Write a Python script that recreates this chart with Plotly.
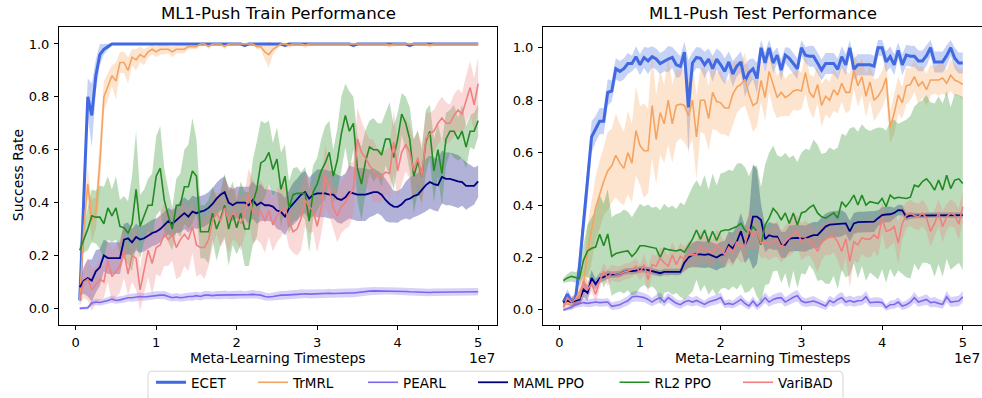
import numpy as np
import plotly.graph_objects as go

# evaluation points: every 0.5M meta-learning timesteps, up to 50M
timesteps = np.arange(1, 101) * 5e5

methods = ["ECET", "TrMRL", "PEARL", "MAML PPO", "RL2 PPO", "VariBAD"]
colors = ["#4169E1", "#F4A460", "#7B68EE", "#000080", "#228B22", "#F08080"]
line_widths = [3.0, 1.6, 1.6, 1.8, 1.6, 1.6]

x_tick_vals = [0, 1e7, 2e7, 3e7, 4e7, 5e7]
x_tick_text = ["0", "1", "2", "3", "4", "5"]
y_tick_vals = [0.0, 0.2, 0.4, 0.6, 0.8, 1.0]
y_tick_text = ["0.0", "0.2", "0.4", "0.6", "0.8", "1.0"]

# ---------------- train success rate (mean, std) ----------------
train_ecet = [
    0.03, 0.42, 0.80, 0.73, 0.88, 0.96, 0.98, 0.99, 1.00, 1.00,
    1.00, 1.00, 1.00, 1.00, 1.00, 1.00, 1.00, 1.00, 1.00, 1.00,
    1.00, 1.00, 1.00, 1.00, 1.00, 1.00, 1.00, 1.00, 1.00, 1.00,
    1.00, 1.00, 1.00, 1.00, 1.00, 1.00, 1.00, 1.00, 1.00, 1.00,
    1.00, 0.995, 1.00, 1.00, 1.00, 1.00, 1.00, 1.00, 1.00, 1.00,
    1.00, 0.995, 1.00, 1.00, 1.00, 1.00, 1.00, 1.00, 1.00, 1.00,
    1.00, 1.00, 1.00, 1.00, 1.00, 1.00, 1.00, 1.00, 0.995, 1.00,
    1.00, 1.00, 1.00, 1.00, 1.00, 1.00, 1.00, 1.00, 1.00, 1.00,
    1.00, 1.00, 0.995, 1.00, 1.00, 1.00, 1.00, 1.00, 1.00, 1.00,
    1.00, 1.00, 1.00, 1.00, 1.00, 1.00, 1.00, 1.00, 1.00, 1.00,
]
train_ecet_sd = [
    0.02, 0.10, 0.07, 0.12, 0.06, 0.04, 0.02, 0.01, 0.004, 0.003,
    0.003, 0.003, 0.003, 0.003, 0.003, 0.003, 0.003, 0.003, 0.003, 0.003,
    0.003, 0.003, 0.003, 0.003, 0.003, 0.003, 0.003, 0.003, 0.003, 0.003,
    0.003, 0.003, 0.003, 0.003, 0.003, 0.003, 0.003, 0.003, 0.003, 0.003,
    0.003, 0.008, 0.003, 0.003, 0.003, 0.003, 0.003, 0.003, 0.003, 0.003,
    0.003, 0.008, 0.003, 0.003, 0.003, 0.003, 0.003, 0.003, 0.003, 0.003,
    0.003, 0.003, 0.003, 0.003, 0.003, 0.003, 0.003, 0.003, 0.008, 0.003,
    0.003, 0.003, 0.003, 0.003, 0.003, 0.003, 0.003, 0.003, 0.003, 0.003,
    0.003, 0.003, 0.008, 0.003, 0.003, 0.003, 0.003, 0.003, 0.003, 0.003,
    0.003, 0.003, 0.003, 0.003, 0.003, 0.003, 0.003, 0.003, 0.003, 0.003,
]
train_trmrl = [
    0.03, 0.30, 0.47, 0.33, 0.36, 0.55, 0.80, 0.84, 0.88, 0.86,
    0.93, 0.93, 0.90, 0.95, 0.94, 0.96, 0.95, 0.97, 0.98, 0.97,
    0.98, 0.98, 0.98, 0.97, 0.98, 0.98, 0.98, 0.99, 0.99, 0.99,
    1.00, 1.00, 0.99, 1.00, 1.00, 1.00, 0.99, 1.00, 1.00, 1.00,
    1.00, 1.00, 1.00, 1.00, 0.99, 0.99, 0.97, 0.96, 0.98, 0.99,
    1.00, 1.00, 0.995, 1.00, 1.00, 1.00, 0.995, 1.00, 1.00, 1.00,
    1.00, 1.00, 1.00, 1.00, 1.00, 1.00, 1.00, 1.00, 1.00, 1.00,
    1.00, 1.00, 1.00, 1.00, 1.00, 1.00, 1.00, 0.995, 1.00, 1.00,
    1.00, 1.00, 1.00, 1.00, 1.00, 1.00, 1.00, 0.995, 1.00, 1.00,
    1.00, 1.00, 1.00, 1.00, 1.00, 1.00, 1.00, 1.00, 1.00, 1.00,
]
train_trmrl_sd = [
    0.02, 0.10, 0.06, 0.08, 0.06, 0.10, 0.06, 0.05, 0.04, 0.07,
    0.04, 0.04, 0.05, 0.03, 0.04, 0.03, 0.03, 0.02, 0.02, 0.02,
    0.02, 0.02, 0.015, 0.02, 0.015, 0.015, 0.015, 0.01, 0.01, 0.01,
    0.005, 0.005, 0.01, 0.005, 0.005, 0.005, 0.01, 0.005, 0.005, 0.005,
    0.005, 0.005, 0.005, 0.005, 0.01, 0.01, 0.03, 0.05, 0.02, 0.01,
    0.005, 0.005, 0.01, 0.005, 0.005, 0.005, 0.01, 0.005, 0.005, 0.005,
    0.005, 0.005, 0.005, 0.005, 0.005, 0.005, 0.005, 0.005, 0.005, 0.005,
    0.005, 0.005, 0.005, 0.005, 0.005, 0.005, 0.005, 0.01, 0.005, 0.005,
    0.005, 0.005, 0.005, 0.005, 0.005, 0.005, 0.005, 0.01, 0.005, 0.005,
    0.005, 0.005, 0.005, 0.005, 0.005, 0.005, 0.005, 0.005, 0.005, 0.005,
]
train_pearl = [
    0.000, 0.000, 0.002, 0.020, 0.024, 0.022, 0.025, 0.030, 0.035, 0.030,
    0.032, 0.035, 0.040, 0.040, 0.042, 0.045, 0.043, 0.045, 0.048, 0.050,
    0.050, 0.050, 0.045, 0.040, 0.043, 0.040, 0.042, 0.045, 0.045, 0.048,
    0.045, 0.050, 0.050, 0.048, 0.050, 0.050, 0.052, 0.050, 0.050, 0.052,
    0.052, 0.050, 0.052, 0.053, 0.052, 0.050, 0.045, 0.043, 0.045, 0.048,
    0.050, 0.050, 0.052, 0.052, 0.053, 0.055, 0.055, 0.054, 0.055, 0.055,
    0.056, 0.056, 0.057, 0.056, 0.057, 0.057, 0.058, 0.058, 0.058, 0.060,
    0.062, 0.065, 0.065, 0.066, 0.066, 0.066, 0.066, 0.066, 0.066, 0.066,
    0.065, 0.064, 0.063, 0.062, 0.061, 0.060, 0.060, 0.060, 0.061, 0.061,
    0.062, 0.062, 0.062, 0.062, 0.063, 0.063, 0.063, 0.063, 0.063, 0.063,
]
train_pearl_sd = [
    0.004, 0.005, 0.006, 0.010, 0.012, 0.012, 0.012, 0.013, 0.014, 0.013,
    0.013, 0.014, 0.014, 0.015, 0.015, 0.015, 0.014, 0.015, 0.015, 0.015,
    0.015, 0.016, 0.015, 0.014, 0.015, 0.014, 0.015, 0.015, 0.016, 0.015,
    0.015, 0.016, 0.016, 0.015, 0.016, 0.016, 0.016, 0.015, 0.016, 0.016,
    0.016, 0.015, 0.016, 0.016, 0.015, 0.016, 0.015, 0.014, 0.015, 0.016,
    0.016, 0.016, 0.016, 0.017, 0.016, 0.017, 0.016, 0.017, 0.017, 0.016,
    0.017, 0.016, 0.017, 0.016, 0.017, 0.017, 0.016, 0.017, 0.016, 0.016,
    0.016, 0.015, 0.015, 0.015, 0.014, 0.014, 0.014, 0.014, 0.014, 0.014,
    0.014, 0.014, 0.014, 0.014, 0.014, 0.014, 0.014, 0.014, 0.014, 0.014,
    0.014, 0.014, 0.014, 0.014, 0.014, 0.014, 0.014, 0.014, 0.014, 0.014,
]
train_maml = [
    0.08, 0.105, 0.115, 0.105, 0.14, 0.155, 0.20, 0.19, 0.19, 0.19,
    0.19, 0.26, 0.265, 0.25, 0.27, 0.26, 0.265, 0.275, 0.285, 0.29,
    0.30, 0.315, 0.33, 0.32, 0.335, 0.347, 0.36, 0.347, 0.366, 0.36,
    0.366, 0.37, 0.38, 0.395, 0.415, 0.43, 0.44, 0.40, 0.39, 0.40,
    0.40, 0.40, 0.39, 0.41, 0.39, 0.40, 0.39, 0.39, 0.385, 0.37,
    0.365, 0.347, 0.378, 0.394, 0.41, 0.43, 0.44, 0.415, 0.43, 0.435,
    0.435, 0.435, 0.43, 0.43, 0.415, 0.41, 0.42, 0.44, 0.435, 0.43,
    0.43, 0.43, 0.435, 0.44, 0.44, 0.43, 0.41, 0.395, 0.385, 0.384,
    0.394, 0.41, 0.415, 0.425, 0.43, 0.447, 0.466, 0.478, 0.47, 0.466,
    0.497, 0.49, 0.49, 0.485, 0.48, 0.478, 0.463, 0.463, 0.463, 0.48,
]
train_maml_sd = [
    0.03, 0.05, 0.07, 0.08, 0.08, 0.07, 0.06, 0.06, 0.06, 0.06,
    0.06, 0.06, 0.06, 0.05, 0.05, 0.05, 0.05, 0.05, 0.05, 0.05,
    0.05, 0.05, 0.05, 0.05, 0.05, 0.06, 0.06, 0.06, 0.06, 0.06,
    0.06, 0.06, 0.06, 0.06, 0.06, 0.06, 0.06, 0.06, 0.06, 0.06,
    0.06, 0.06, 0.07, 0.07, 0.07, 0.07, 0.06, 0.06, 0.06, 0.07,
    0.07, 0.07, 0.07, 0.08, 0.08, 0.08, 0.08, 0.08, 0.08, 0.09,
    0.09, 0.09, 0.09, 0.09, 0.09, 0.09, 0.09, 0.10, 0.10, 0.10,
    0.10, 0.10, 0.09, 0.09, 0.08, 0.08, 0.08, 0.07, 0.06, 0.06,
    0.06, 0.07, 0.08, 0.08, 0.08, 0.09, 0.10, 0.10, 0.10, 0.10,
    0.10, 0.10, 0.10, 0.10, 0.10, 0.09, 0.09, 0.08, 0.07, 0.06,
]
train_rl2 = [
    0.22, 0.26, 0.30, 0.35, 0.345, 0.345, 0.32, 0.38, 0.35, 0.38,
    0.31, 0.305, 0.285, 0.32, 0.45, 0.31, 0.35, 0.39, 0.39, 0.50,
    0.53, 0.41, 0.35, 0.30, 0.39, 0.39, 0.46, 0.46, 0.52, 0.50,
    0.29, 0.29, 0.29, 0.36, 0.30, 0.34, 0.39, 0.30, 0.36, 0.305,
    0.36, 0.30, 0.30, 0.40, 0.45, 0.55, 0.56, 0.59, 0.525, 0.565,
    0.45, 0.50, 0.38, 0.43, 0.435, 0.435, 0.435, 0.33, 0.44, 0.47,
    0.52, 0.55, 0.59, 0.50, 0.56, 0.66, 0.73, 0.67, 0.70, 0.53,
    0.47, 0.555, 0.61, 0.60, 0.60, 0.58, 0.64, 0.64, 0.57, 0.64,
    0.735, 0.70, 0.64, 0.50, 0.555, 0.50, 0.63, 0.67, 0.52, 0.60,
    0.51, 0.64, 0.67, 0.67, 0.64, 0.67, 0.61, 0.67, 0.67, 0.71,
]
train_rl2_sd = [
    0.02, 0.05, 0.08, 0.10, 0.10, 0.12, 0.14, 0.12, 0.10, 0.12,
    0.10, 0.12, 0.12, 0.18, 0.22, 0.12, 0.10, 0.10, 0.12, 0.15,
    0.16, 0.12, 0.10, 0.08, 0.10, 0.12, 0.14, 0.16, 0.20, 0.14,
    0.10, 0.10, 0.12, 0.10, 0.12, 0.10, 0.12, 0.14, 0.12, 0.10,
    0.12, 0.14, 0.14, 0.16, 0.18, 0.16, 0.14, 0.12, 0.10, 0.12,
    0.14, 0.12, 0.10, 0.10, 0.10, 0.08, 0.10, 0.12, 0.10, 0.10,
    0.12, 0.14, 0.12, 0.10, 0.12, 0.14, 0.12, 0.15, 0.10, 0.12,
    0.14, 0.12, 0.10, 0.12, 0.10, 0.12, 0.10, 0.14, 0.12, 0.10,
    0.08, 0.10, 0.12, 0.14, 0.12, 0.10, 0.12, 0.10, 0.12, 0.10,
    0.12, 0.10, 0.08, 0.10, 0.08, 0.10, 0.08, 0.06, 0.07, 0.06,
]
train_varibad = [
    0.04, 0.10, 0.11, 0.07, 0.09, 0.11, 0.10, 0.18, 0.12, 0.14,
    0.16, 0.215, 0.13, 0.20, 0.19, 0.07, 0.15, 0.22, 0.17, 0.23,
    0.24, 0.28, 0.26, 0.28, 0.23, 0.26, 0.28, 0.26, 0.31, 0.24,
    0.23, 0.23, 0.26, 0.33, 0.36, 0.33, 0.38, 0.33, 0.36, 0.35,
    0.32, 0.36, 0.43, 0.365, 0.36, 0.365, 0.33, 0.37, 0.315, 0.35,
    0.37, 0.38, 0.33, 0.29, 0.30, 0.34, 0.41, 0.385, 0.37, 0.31,
    0.38, 0.50, 0.45, 0.38, 0.35, 0.385, 0.40, 0.43, 0.455, 0.64,
    0.59, 0.57, 0.54, 0.52, 0.50, 0.50, 0.515, 0.51, 0.63, 0.52,
    0.59, 0.62, 0.59, 0.52, 0.57, 0.50, 0.64, 0.66, 0.67, 0.70,
    0.72, 0.70, 0.70, 0.73, 0.75, 0.735, 0.79, 0.835, 0.77, 0.85,
]
train_varibad_sd = [
    0.03, 0.06, 0.08, 0.08, 0.07, 0.08, 0.06, 0.08, 0.10, 0.10,
    0.10, 0.10, 0.08, 0.10, 0.12, 0.08, 0.10, 0.10, 0.12, 0.10,
    0.12, 0.12, 0.10, 0.10, 0.12, 0.14, 0.12, 0.12, 0.10, 0.12,
    0.10, 0.12, 0.10, 0.10, 0.08, 0.10, 0.12, 0.12, 0.10, 0.10,
    0.10, 0.08, 0.10, 0.12, 0.10, 0.12, 0.12, 0.10, 0.10, 0.10,
    0.10, 0.08, 0.10, 0.08, 0.10, 0.12, 0.10, 0.10, 0.08, 0.10,
    0.10, 0.12, 0.10, 0.08, 0.10, 0.10, 0.10, 0.12, 0.10, 0.12,
    0.12, 0.10, 0.10, 0.12, 0.10, 0.10, 0.08, 0.10, 0.12, 0.10,
    0.12, 0.10, 0.10, 0.12, 0.10, 0.12, 0.10, 0.08, 0.08, 0.08,
    0.08, 0.08, 0.07, 0.08, 0.08, 0.08, 0.09, 0.10, 0.10, 0.10,
]

# ---------------- test success rate (mean, std) ----------------
test_ecet = [
    0.03, 0.06, 0.03, 0.04, 0.17, 0.33, 0.49, 0.66, 0.69, 0.72,
    0.72, 0.83, 0.835, 0.92, 0.91, 0.92, 0.94, 0.94, 0.966, 0.935,
    0.963, 0.95, 0.966, 0.957, 0.94, 0.95, 0.957, 0.963, 0.935, 0.929,
    0.983, 0.773, 0.942, 0.963, 0.96, 0.935, 0.957, 0.92, 0.957, 0.935,
    0.91, 0.946, 0.90, 0.93, 0.946, 0.873, 0.905, 0.92, 0.883, 1.0,
    0.942, 1.0, 0.942, 0.972, 0.915, 0.972, 0.96, 0.94, 0.92, 1.0,
    0.972, 0.968, 0.968, 0.942, 0.915, 0.94, 0.94, 0.94, 0.918, 0.966,
    0.935, 1.0, 0.918, 0.935, 0.935, 0.935, 0.935, 0.93, 1.0, 1.0,
    0.946, 0.966, 0.935, 0.99, 0.935, 0.972, 0.968, 0.968, 0.95, 0.95,
    0.97, 1.0, 0.946, 0.946, 0.946, 0.97, 1.0, 0.96, 0.942, 0.942,
]
test_ecet_sd = [
    0.01, 0.02, 0.02, 0.02, 0.05, 0.06, 0.07, 0.06, 0.05, 0.05,
    0.05, 0.05, 0.04, 0.04, 0.04, 0.04, 0.04, 0.03, 0.04, 0.04,
    0.04, 0.05, 0.04, 0.04, 0.04, 0.04, 0.05, 0.04, 0.05, 0.04,
    0.04, 0.18, 0.04, 0.04, 0.04, 0.05, 0.04, 0.05, 0.04, 0.05,
    0.05, 0.04, 0.05, 0.04, 0.04, 0.06, 0.05, 0.04, 0.06, 0.03,
    0.04, 0.03, 0.04, 0.03, 0.04, 0.03, 0.04, 0.04, 0.04, 0.03,
    0.03, 0.04, 0.04, 0.04, 0.04, 0.04, 0.04, 0.04, 0.04, 0.04,
    0.04, 0.03, 0.04, 0.04, 0.04, 0.04, 0.04, 0.04, 0.03, 0.03,
    0.04, 0.04, 0.04, 0.03, 0.04, 0.04, 0.04, 0.04, 0.04, 0.04,
    0.04, 0.03, 0.04, 0.04, 0.04, 0.04, 0.03, 0.04, 0.04, 0.04,
]
test_trmrl = [
    0.01, 0.03, 0.02, 0.04, 0.07, 0.10, 0.22, 0.30, 0.39, 0.44,
    0.49, 0.53, 0.55, 0.59, 0.56, 0.54, 0.60, 0.56, 0.684, 0.627,
    0.607, 0.607, 0.78, 0.65, 0.753, 0.71, 0.80, 0.71, 0.78, 0.785,
    0.78, 0.74, 0.80, 0.66, 0.80, 0.80, 0.73, 0.83, 0.795, 0.79,
    0.77, 0.77, 0.823, 0.85, 0.86, 0.88, 0.823, 0.78, 0.79, 0.875,
    0.81, 0.91, 0.855, 0.81, 0.83, 0.81, 0.82, 0.835, 0.84, 0.835,
    0.905, 0.83, 0.81, 0.86, 0.78, 0.815, 0.80, 0.84, 0.82, 0.865,
    0.83, 0.83, 0.915, 0.855, 0.89, 0.815, 0.87, 0.80, 0.815, 0.84,
    0.885, 0.697, 0.75, 0.82, 0.79, 0.855, 0.86, 0.89, 0.855, 0.87,
    0.84, 0.877, 0.877, 0.877, 0.885, 0.865, 0.895, 0.877, 0.87, 0.86,
]
test_trmrl_sd = [
    0.01, 0.02, 0.02, 0.03, 0.05, 0.06, 0.10, 0.12, 0.12, 0.13,
    0.13, 0.15, 0.14, 0.16, 0.15, 0.14, 0.16, 0.15, 0.17, 0.15,
    0.18, 0.16, 0.20, 0.17, 0.16, 0.15, 0.17, 0.15, 0.14, 0.13,
    0.14, 0.13, 0.15, 0.16, 0.12, 0.13, 0.12, 0.14, 0.11, 0.12,
    0.10, 0.11, 0.12, 0.10, 0.09, 0.10, 0.09, 0.10, 0.09, 0.08,
    0.09, 0.08, 0.09, 0.08, 0.09, 0.07, 0.08, 0.07, 0.08, 0.07,
    0.08, 0.07, 0.08, 0.07, 0.08, 0.07, 0.07, 0.08, 0.07, 0.07,
    0.08, 0.07, 0.07, 0.08, 0.07, 0.08, 0.07, 0.08, 0.07, 0.07,
    0.07, 0.06, 0.08, 0.07, 0.06, 0.07, 0.06, 0.06, 0.07, 0.06,
    0.06, 0.06, 0.05, 0.06, 0.06, 0.05, 0.06, 0.06, 0.05, 0.06,
]
test_pearl = [
    0.000, 0.005, 0.010, 0.020, 0.025, 0.028, 0.025, 0.027, 0.030, 0.028,
    0.028, 0.030, 0.014, 0.018, 0.020, 0.028, 0.035, 0.049, 0.052, 0.050,
    0.047, 0.040, 0.030, 0.040, 0.047, 0.030, 0.047, 0.036, 0.025, 0.020,
    0.030, 0.036, 0.030, 0.036, 0.028, 0.021, 0.030, 0.034, 0.040, 0.047,
    0.021, 0.025, 0.021, 0.030, 0.040, 0.025, 0.015, 0.034, 0.015, 0.028,
    0.047, 0.030, 0.040, 0.045, 0.047, 0.030, 0.040, 0.048, 0.054, 0.034,
    0.028, 0.030, 0.034, 0.028, 0.020, 0.015, 0.036, 0.028, 0.040, 0.047,
    0.030, 0.036, 0.030, 0.035, 0.036, 0.050, 0.028, 0.030, 0.030, 0.028,
    0.009, 0.020, 0.021, 0.030, 0.015, 0.020, 0.030, 0.047, 0.030, 0.035,
    0.040, 0.028, 0.030, 0.025, 0.021, 0.050, 0.030, 0.032, 0.034, 0.050,
]
test_pearl_sd = [
    0.005, 0.008, 0.010, 0.012, 0.015, 0.015, 0.015, 0.016, 0.015, 0.016,
    0.015, 0.016, 0.014, 0.015, 0.016, 0.017, 0.018, 0.020, 0.020, 0.019,
    0.018, 0.018, 0.016, 0.018, 0.020, 0.017, 0.019, 0.018, 0.016, 0.015,
    0.016, 0.018, 0.017, 0.018, 0.016, 0.015, 0.017, 0.018, 0.019, 0.020,
    0.015, 0.016, 0.015, 0.017, 0.019, 0.016, 0.014, 0.018, 0.015, 0.017,
    0.020, 0.018, 0.019, 0.020, 0.021, 0.018, 0.019, 0.021, 0.022, 0.018,
    0.017, 0.018, 0.019, 0.017, 0.016, 0.015, 0.019, 0.017, 0.020, 0.021,
    0.018, 0.019, 0.018, 0.019, 0.019, 0.022, 0.017, 0.018, 0.018, 0.017,
    0.012, 0.016, 0.016, 0.018, 0.015, 0.016, 0.018, 0.021, 0.018, 0.019,
    0.020, 0.018, 0.019, 0.017, 0.016, 0.022, 0.019, 0.019, 0.020, 0.022,
]
test_maml = [
    0.028, 0.035, 0.03, 0.035, 0.04, 0.078, 0.065, 0.122, 0.098, 0.122,
    0.125, 0.135, 0.135, 0.135, 0.137, 0.145, 0.148, 0.148, 0.15, 0.155,
    0.155, 0.152, 0.148, 0.142, 0.14, 0.145, 0.145, 0.145, 0.145, 0.145,
    0.18, 0.20, 0.21, 0.213, 0.212, 0.21, 0.213, 0.205, 0.20, 0.21,
    0.213, 0.248, 0.235, 0.26, 0.30, 0.248, 0.28, 0.356, 0.356, 0.343,
    0.27, 0.285, 0.28, 0.28, 0.248, 0.248, 0.272, 0.274, 0.275, 0.273,
    0.272, 0.28, 0.285, 0.285, 0.30, 0.318, 0.325, 0.326, 0.327, 0.33,
    0.33, 0.30, 0.33, 0.335, 0.335, 0.335, 0.336, 0.337, 0.35, 0.362,
    0.364, 0.365, 0.37, 0.381, 0.38, 0.355, 0.36, 0.36, 0.36, 0.36,
    0.362, 0.362, 0.362, 0.362, 0.362, 0.362, 0.362, 0.362, 0.362, 0.362,
]
test_maml_sd = [
    0.01, 0.015, 0.015, 0.02, 0.02, 0.03, 0.03, 0.03, 0.02, 0.02,
    0.015, 0.015, 0.012, 0.012, 0.012, 0.012, 0.012, 0.012, 0.012, 0.012,
    0.012, 0.012, 0.012, 0.012, 0.012, 0.012, 0.012, 0.012, 0.012, 0.012,
    0.03, 0.04, 0.045, 0.05, 0.05, 0.05, 0.05, 0.05, 0.05, 0.05,
    0.05, 0.05, 0.06, 0.06, 0.07, 0.07, 0.08, 0.20, 0.18, 0.06,
    0.05, 0.05, 0.05, 0.05, 0.05, 0.05, 0.05, 0.05, 0.05, 0.05,
    0.05, 0.05, 0.05, 0.05, 0.05, 0.05, 0.05, 0.05, 0.05, 0.05,
    0.04, 0.04, 0.04, 0.04, 0.04, 0.04, 0.04, 0.04, 0.03, 0.03,
    0.03, 0.03, 0.02, 0.02, 0.02, 0.015, 0.012, 0.01, 0.01, 0.01,
    0.01, 0.01, 0.01, 0.01, 0.01, 0.01, 0.01, 0.01, 0.01, 0.01,
]
test_rl2 = [
    0.112, 0.122, 0.128, 0.125, 0.12, 0.19, 0.225, 0.235, 0.24, 0.289,
    0.245, 0.29, 0.204, 0.215, 0.22, 0.223, 0.225, 0.204, 0.22, 0.245,
    0.245, 0.242, 0.24, 0.235, 0.20, 0.235, 0.23, 0.228, 0.225, 0.23,
    0.22, 0.245, 0.27, 0.305, 0.27, 0.305, 0.258, 0.30, 0.265, 0.30,
    0.305, 0.305, 0.31, 0.318, 0.33, 0.305, 0.29, 0.318, 0.30, 0.249,
    0.324, 0.35, 0.387, 0.37, 0.343, 0.37, 0.33, 0.37, 0.324, 0.37,
    0.375, 0.39, 0.40, 0.37, 0.355, 0.35, 0.36, 0.37, 0.35, 0.413,
    0.394, 0.413, 0.438, 0.40, 0.438, 0.40, 0.413, 0.41, 0.406, 0.425,
    0.394, 0.438, 0.425, 0.43, 0.428, 0.425, 0.43, 0.476, 0.47, 0.49,
    0.50, 0.482, 0.457, 0.495, 0.457, 0.514, 0.463, 0.495, 0.50, 0.482,
]
test_rl2_sd = [
    0.01, 0.015, 0.02, 0.02, 0.03, 0.06, 0.10, 0.12, 0.14, 0.15,
    0.16, 0.17, 0.15, 0.15, 0.15, 0.16, 0.15, 0.15, 0.16, 0.16,
    0.15, 0.16, 0.15, 0.16, 0.18, 0.17, 0.16, 0.17, 0.16, 0.18,
    0.18, 0.19, 0.20, 0.19, 0.20, 0.21, 0.20, 0.22, 0.21, 0.22,
    0.22, 0.23, 0.22, 0.24, 0.23, 0.24, 0.22, 0.23, 0.25, 0.22,
    0.23, 0.25, 0.24, 0.22, 0.24, 0.23, 0.25, 0.22, 0.24, 0.23,
    0.24, 0.22, 0.25, 0.26, 0.24, 0.25, 0.26, 0.24, 0.27, 0.26,
    0.27, 0.28, 0.26, 0.28, 0.27, 0.29, 0.27, 0.28, 0.29, 0.27,
    0.29, 0.28, 0.30, 0.28, 0.29, 0.30, 0.31, 0.30, 0.32, 0.31,
    0.32, 0.31, 0.33, 0.32, 0.33, 0.32, 0.31, 0.33, 0.32, 0.33,
]
test_varibad = [
    0.01, 0.047, 0.03, 0.04, 0.045, 0.11, 0.078, 0.10, 0.06, 0.11,
    0.148, 0.122, 0.142, 0.137, 0.137, 0.145, 0.148, 0.155, 0.167, 0.142,
    0.173, 0.116, 0.173, 0.167, 0.198, 0.18, 0.167, 0.21, 0.173, 0.205,
    0.192, 0.21, 0.21, 0.21, 0.24, 0.23, 0.223, 0.217, 0.248, 0.235,
    0.21, 0.24, 0.217, 0.26, 0.24, 0.248, 0.31, 0.286, 0.30, 0.255,
    0.26, 0.25, 0.26, 0.272, 0.24, 0.26, 0.275, 0.29, 0.30, 0.26,
    0.272, 0.267, 0.25, 0.223, 0.26, 0.27, 0.28, 0.28, 0.26, 0.223,
    0.272, 0.186, 0.26, 0.248, 0.275, 0.27, 0.27, 0.286, 0.272, 0.35,
    0.30, 0.305, 0.318, 0.255, 0.33, 0.362, 0.37, 0.36, 0.355, 0.37,
    0.35, 0.30, 0.33, 0.37, 0.318, 0.355, 0.37, 0.362, 0.327, 0.394,
]
test_varibad_sd = [
    0.01, 0.02, 0.02, 0.02, 0.02, 0.03, 0.03, 0.03, 0.03, 0.03,
    0.03, 0.03, 0.03, 0.03, 0.03, 0.03, 0.03, 0.03, 0.03, 0.03,
    0.04, 0.05, 0.04, 0.04, 0.04, 0.05, 0.04, 0.05, 0.05, 0.05,
    0.05, 0.05, 0.05, 0.05, 0.06, 0.05, 0.06, 0.05, 0.06, 0.05,
    0.05, 0.06, 0.05, 0.06, 0.06, 0.06, 0.07, 0.06, 0.06, 0.06,
    0.06, 0.06, 0.06, 0.07, 0.06, 0.06, 0.07, 0.07, 0.06, 0.07,
    0.07, 0.06, 0.07, 0.08, 0.07, 0.06, 0.07, 0.06, 0.07, 0.08,
    0.07, 0.10, 0.07, 0.07, 0.06, 0.07, 0.07, 0.06, 0.07, 0.06,
    0.07, 0.06, 0.06, 0.08, 0.06, 0.05, 0.05, 0.05, 0.05, 0.05,
    0.05, 0.06, 0.05, 0.05, 0.06, 0.05, 0.05, 0.05, 0.06, 0.06,
]

train_runs = [
    (train_ecet, train_ecet_sd), (train_trmrl, train_trmrl_sd),
    (train_pearl, train_pearl_sd), (train_maml, train_maml_sd),
    (train_rl2, train_rl2_sd), (train_varibad, train_varibad_sd),
]
test_runs = [
    (test_ecet, test_ecet_sd), (test_trmrl, test_trmrl_sd),
    (test_pearl, test_pearl_sd), (test_maml, test_maml_sd),
    (test_rl2, test_rl2_sd), (test_varibad, test_varibad_sd),
]
for mean, sd in train_runs + test_runs:
    assert len(mean) == len(timesteps) and len(sd) == len(timesteps)


def rgba(hex_color, alpha):
    h = hex_color.lstrip("#")
    r, g, b = int(h[0:2], 16), int(h[2:4], 16), int(h[4:6], 16)
    return f"rgba({r},{g},{b},{alpha})"


fig = go.Figure()
panels = [(train_runs, "x", "y"), (test_runs, "x2", "y2")]

# shaded std bands sit underneath every mean line
for runs, xa, ya in panels:
    for (mean, sd), color in zip(runs, colors):
        m = np.asarray(mean)
        s = np.asarray(sd)
        fig.add_trace(go.Scatter(
            x=timesteps, y=m - s, mode="lines", line=dict(width=0),
            hoverinfo="skip", showlegend=False, xaxis=xa, yaxis=ya))
        fig.add_trace(go.Scatter(
            x=timesteps, y=m + s, mode="lines", line=dict(width=0),
            fill="tonexty", fillcolor=rgba(color, 0.3),
            hoverinfo="skip", showlegend=False, xaxis=xa, yaxis=ya))

legend_ids = ["legend", "legend2", "legend3", "legend4", "legend5", "legend6"]
for p, (runs, xa, ya) in enumerate(panels):
    for k, ((mean, sd), color, lw, name) in enumerate(zip(runs, colors, line_widths, methods)):
        fig.add_trace(go.Scatter(
            x=timesteps, y=mean, mode="lines", name=name,
            line=dict(color=color, width=lw),
            legend=legend_ids[k], showlegend=(p == 0),
            xaxis=xa, yaxis=ya))

W, H = 982, 398
axis_style = dict(
    showline=True, linecolor="black", linewidth=1,
    ticks="outside", ticklen=4, tickwidth=1, tickcolor="black",
    showgrid=False, zeroline=False, ticklabelstandoff=2,
    tickfont=dict(family="DejaVu Sans", size=13, color="black"),
)
y_dom = [71 / H, 371 / H]

fig.update_layout(
    width=W, height=H,
    margin=dict(l=0, r=0, t=0, b=0),
    paper_bgcolor="white", plot_bgcolor="white",
    font=dict(family="DejaVu Sans", size=13, color="black"),
    xaxis=dict(domain=[59 / W, 497 / W], range=[-0.2075e7, 5.234e7],
               tickvals=x_tick_vals, ticktext=x_tick_text,
               mirror=True, anchor="y", **axis_style),
    yaxis=dict(domain=y_dom, range=[-0.0612, 1.065],
               tickvals=y_tick_vals, ticktext=y_tick_text,
               mirror=True, anchor="x", **axis_style),
    xaxis2=dict(domain=[543 / W, 1.0], range=[-0.202e7, 5.238e7],
                tickvals=x_tick_vals, ticktext=x_tick_text,
                mirror=True, anchor="y2", **axis_style),
    yaxis2=dict(domain=y_dom, range=[-0.0557, 1.08],
                tickvals=y_tick_vals, ticktext=y_tick_text,
                mirror=False, anchor="x2", **axis_style),
)

# one legend per entry so the spacing follows each label's width
legend_left_px = [151, 253, 363, 473, 614.5, 738]
for key, xp in zip(legend_ids, legend_left_px):
    fig.update_layout({key: dict(
        x=xp / W, xanchor="left", y=1 - 385.5 / H, yanchor="middle",
        orientation="h", bgcolor="rgba(0,0,0,0)", borderwidth=0,
        font=dict(family="DejaVu Sans", size=13.5, color="black"),
    )})

# legend frame (rounded top corners, runs past the bottom edge)
fx0, fx1 = 148 / W, 843 / W
fyt, fyb = 1 - 374 / H, 1 - 404 / H
rx, ry = 4 / W, 4 / H
frame_path = (f"M {fx0},{fyb} L {fx0},{fyt - ry} Q {fx0},{fyt} {fx0 + rx},{fyt} "
              f"L {fx1 - rx},{fyt} Q {fx1},{fyt} {fx1},{fyt - ry} L {fx1},{fyb}")
fig.add_shape(type="path", path=frame_path, xref="paper", yref="paper",
              line=dict(color="rgb(214,214,214)", width=1), layer="below")

ann_font = dict(family="DejaVu Sans", size=13.9, color="black")
title_font = dict(family="DejaVu Sans", size=16.6, color="black")
annotations = [
    dict(text="ML1-Push Train Performance", x=278 / W, y=1 - 14 / H, font=title_font,
         xanchor="center", yanchor="middle"),
    dict(text="ML1-Push Test Performance", x=763 / W, y=1 - 14 / H, font=title_font,
         xanchor="center", yanchor="middle"),
    dict(text="Meta-Learning Timesteps", x=278 / W, y=1 - 360.5 / H, font=ann_font,
         xanchor="center", yanchor="middle"),
    dict(text="Meta-Learning Timesteps", x=763 / W, y=1 - 360.5 / H, font=ann_font,
         xanchor="center", yanchor="middle"),
    dict(text="1e7", x=497.5 / W, y=1 - 360.5 / H, font=ann_font,
         xanchor="right", yanchor="middle"),
    dict(text="1e7", x=982 / W, y=1 - 360.5 / H, font=ann_font,
         xanchor="right", yanchor="middle"),
    dict(text="Success Rate", x=17.5 / W, y=1 - 177 / H, font=ann_font,
         textangle=-90, xanchor="center", yanchor="middle"),
]
for a in annotations:
    fig.add_annotation(xref="paper", yref="paper", showarrow=False, **a)

fig.write_html("out.html")
